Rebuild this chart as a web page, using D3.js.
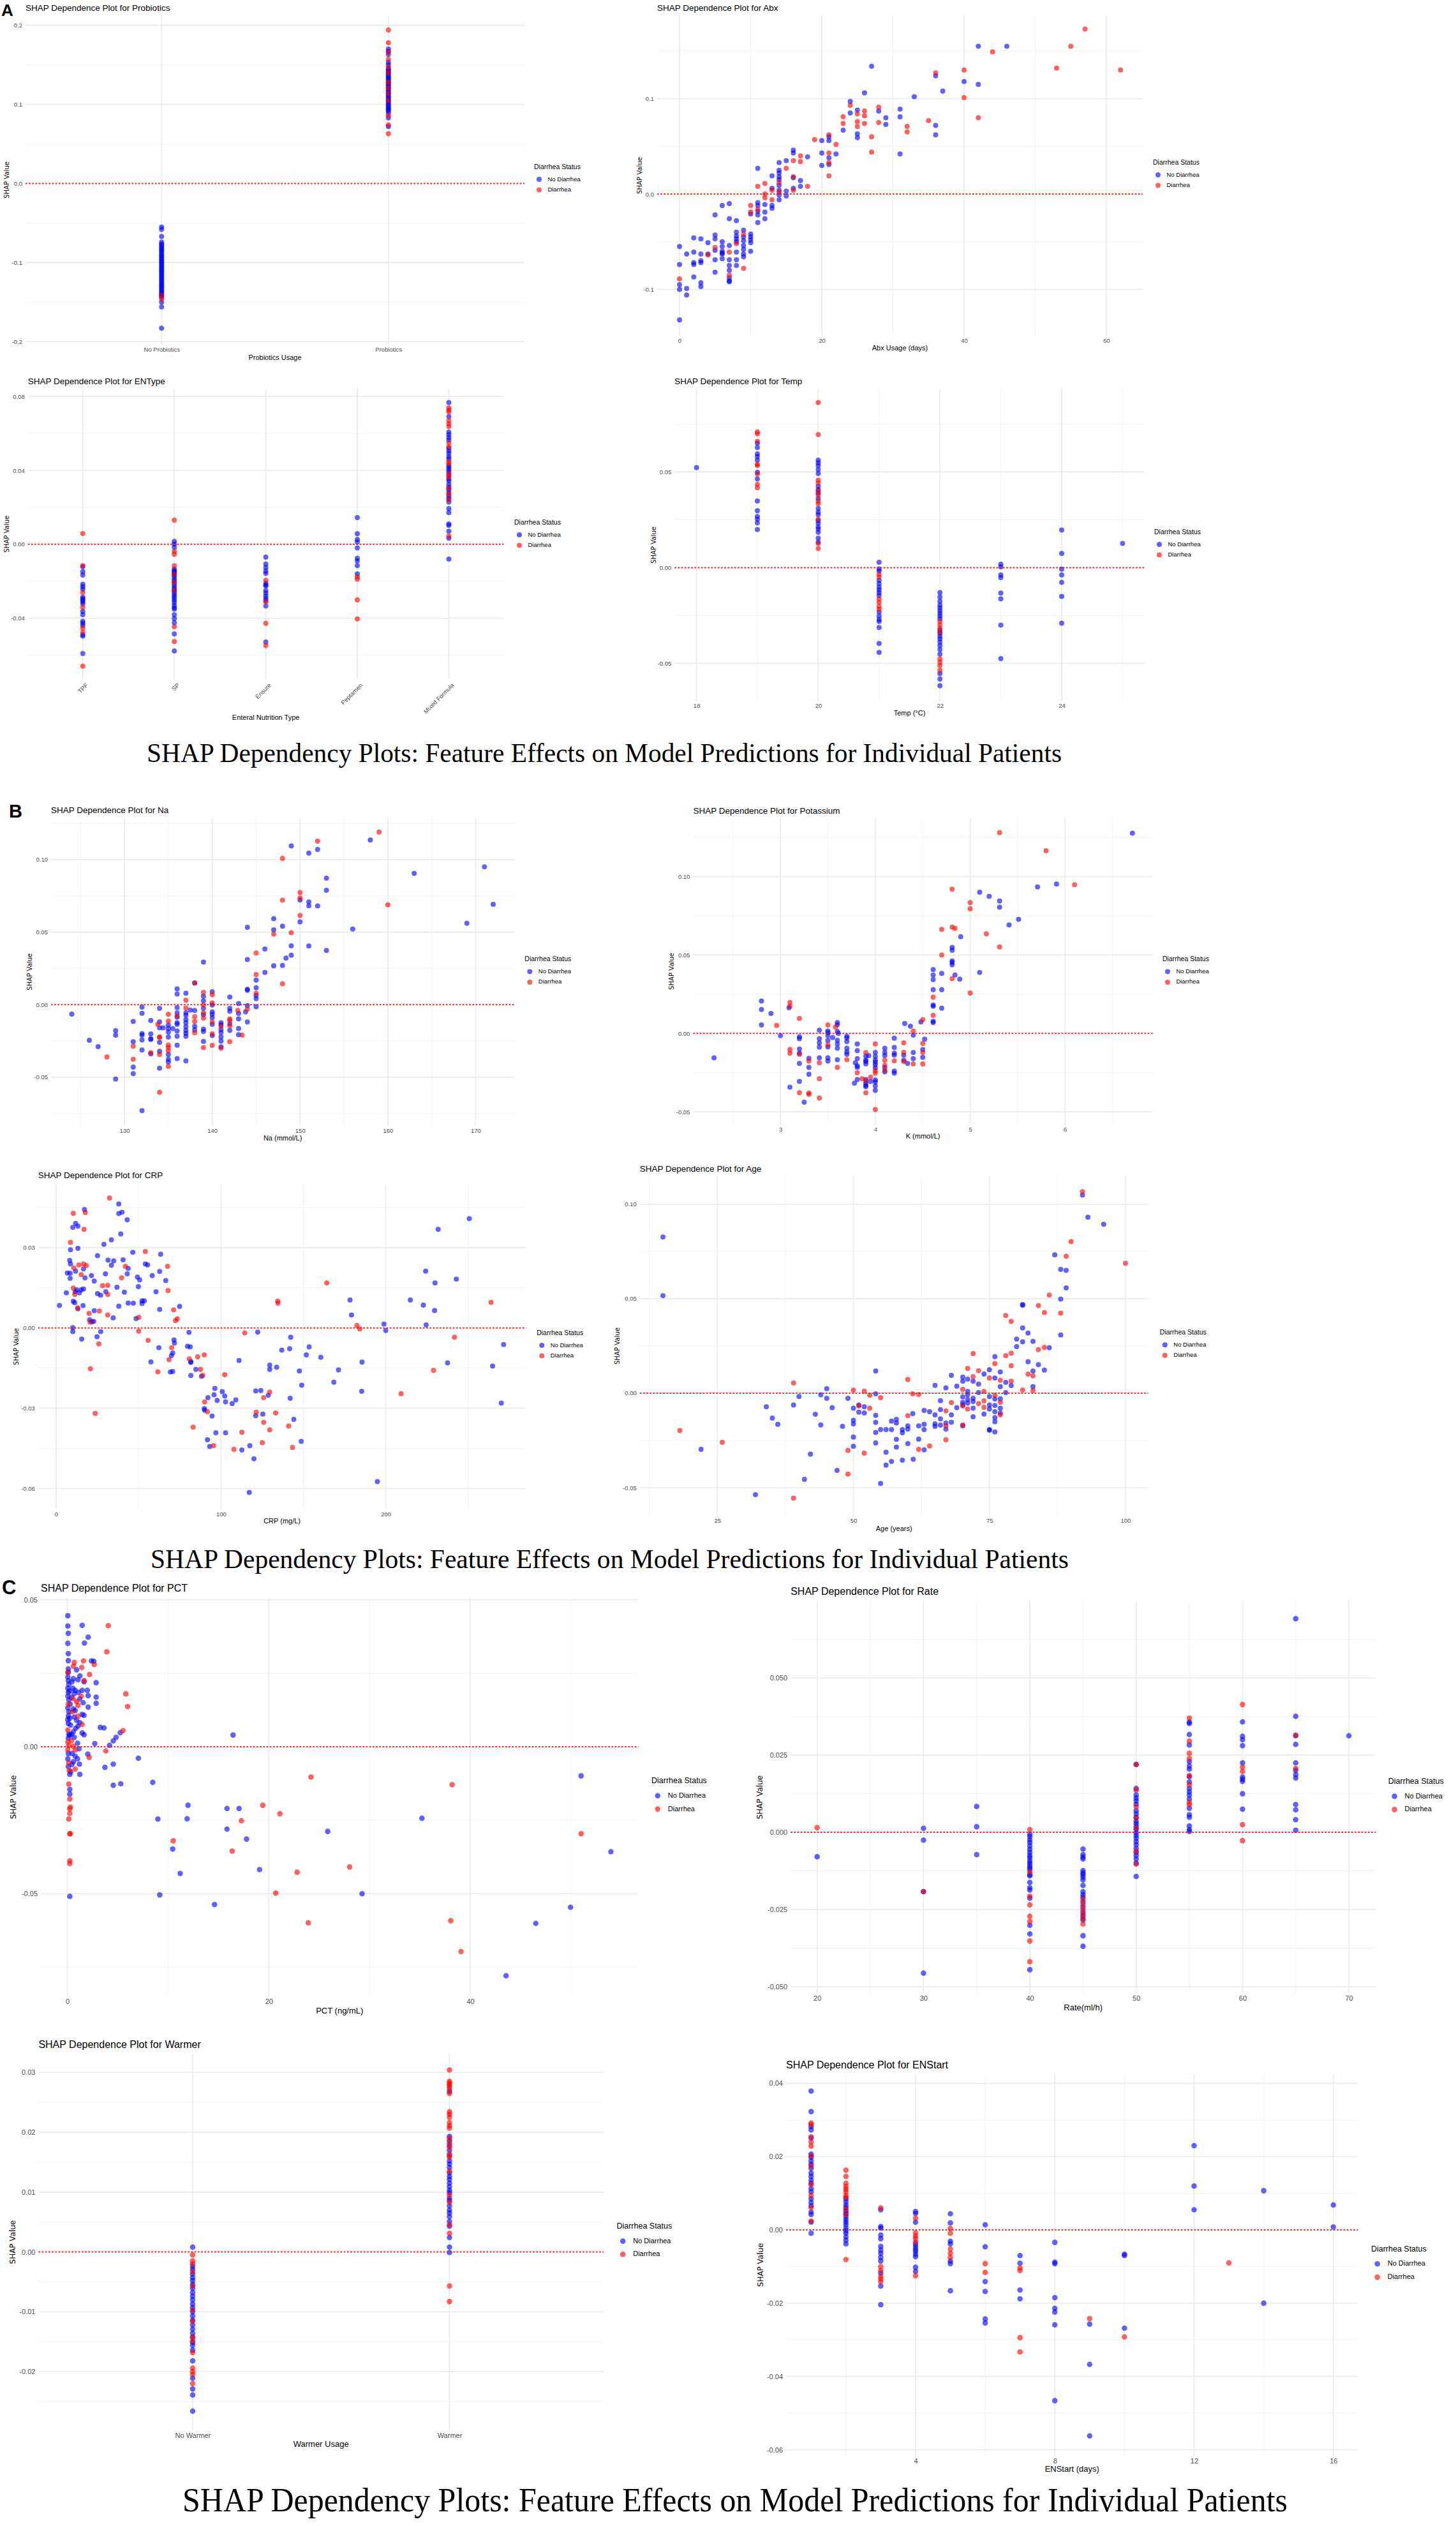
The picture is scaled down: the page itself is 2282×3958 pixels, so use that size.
<!DOCTYPE html>
<html>
<head>
<meta charset="utf-8">
<script src="https://cdn.jsdelivr.net/npm/d3@7"></script>
<style>
  body { margin: 0; background: #fff; }
</style>
</head>
<body>
<script>
// ---------- data: [x, shap] pairs, split by diarrhea status ----------

const probioticsCats = ['No Probiotics', 'Probiotics'];
const probioticsNo = [
  ['No Probiotics',-0.055],['No Probiotics',-0.058],['No Probiotics',-0.067],['No Probiotics',-0.074],['No Probiotics',-0.0765],
  ['No Probiotics',-0.078],['No Probiotics',-0.0805],['No Probiotics',-0.0822],['No Probiotics',-0.0841],['No Probiotics',-0.0858],
  ['No Probiotics',-0.088],['No Probiotics',-0.0897],['No Probiotics',-0.0915],['No Probiotics',-0.093],['No Probiotics',-0.0952],
  ['No Probiotics',-0.0969],['No Probiotics',-0.0985],['No Probiotics',-0.1003],['No Probiotics',-0.1021],['No Probiotics',-0.104],
  ['No Probiotics',-0.1056],['No Probiotics',-0.1074],['No Probiotics',-0.1093],['No Probiotics',-0.111],['No Probiotics',-0.1128],
  ['No Probiotics',-0.1145],['No Probiotics',-0.1166],['No Probiotics',-0.1182],['No Probiotics',-0.1201],['No Probiotics',-0.1219],
  ['No Probiotics',-0.1235],['No Probiotics',-0.1257],['No Probiotics',-0.1274],['No Probiotics',-0.129],['No Probiotics',-0.1311],
  ['No Probiotics',-0.1327],['No Probiotics',-0.1348],['No Probiotics',-0.1366],['No Probiotics',-0.1385],['No Probiotics',-0.1402],
  ['No Probiotics',-0.142],['No Probiotics',-0.1438],['No Probiotics',-0.150],['No Probiotics',-0.156],['No Probiotics',-0.183],
  ['Probiotics',0.170],['Probiotics',0.167],['Probiotics',0.163],['Probiotics',0.153],['Probiotics',0.150],['Probiotics',0.1452],
  ['Probiotics',0.1437],['Probiotics',0.142],['Probiotics',0.1401],['Probiotics',0.1386],['Probiotics',0.1365],['Probiotics',0.1348],
  ['Probiotics',0.133],['Probiotics',0.1312],['Probiotics',0.1296],['Probiotics',0.1274],['Probiotics',0.1258],['Probiotics',0.124],
  ['Probiotics',0.1222],['Probiotics',0.1205],['Probiotics',0.1187],['Probiotics',0.1166],['Probiotics',0.115],['Probiotics',0.1131],
  ['Probiotics',0.1113],['Probiotics',0.1095],['Probiotics',0.1078],['Probiotics',0.106],['Probiotics',0.1042],['Probiotics',0.1024],
  ['Probiotics',0.1006],['Probiotics',0.0987],['Probiotics',0.0968],['Probiotics',0.095],['Probiotics',0.0933],['Probiotics',0.0918],
  ['Probiotics',0.089],['Probiotics',0.083],['Probiotics',0.072]
];
const probioticsYes = [
  ['No Probiotics',-0.146],['No Probiotics',-0.1415],
  ['Probiotics',0.194],['Probiotics',0.178],['Probiotics',0.166],['Probiotics',0.157],['Probiotics',0.147],['Probiotics',0.140],
  ['Probiotics',0.128],['Probiotics',0.121],['Probiotics',0.114],['Probiotics',0.105],['Probiotics',0.086],['Probiotics',0.074],
  ['Probiotics',0.063]
];

const abxNo = [
  [42,0.155],[46,0.155],[27,0.134],[36,0.124],[40,0.118],[42,0.115],[37,0.108],[26,0.106],[33,0.102],[24,0.097],[31,0.089],
  [25,0.088],[28,0.087],[24,0.085],[31,0.081],[29,0.080],[36,0.072],[29,0.073],[23,0.067],[25,0.063],[36,0.062],[25,0.059],
  [21,0.060],[20,0.056],[21,0.056],[16,0.046],[16,0.043],[20,0.043],[22,0.042],[31,0.042],[18,0.039],[15,0.035],[14,0.033],
  [21,0.038],[21,0.031],[20,0.030],[11,0.027],[14,0.025],[14,0.022],[13,0.019],[14,0.018],[16,0.017],[14,0.015],[17,0.014],
  [14,0.009],[17,0.008],[16,0.006],[13,0.006],[14,0.004],[15,0.003],[15,-0.002],[14,-0.001],[14,-0.006],[11,-0.009],[7,-0.010],
  [11,-0.012],[12,-0.011],[13,-0.012],[13,-0.015],[11,-0.018],[12,-0.019],[10,-0.021],[11,-0.022],[12,-0.026],[7,-0.026],
  [8,-0.028],[11,-0.030],[9,-0.038],[8,-0.040],[10,-0.042],[8,-0.044],[9,-0.045],[10,-0.045],[8,-0.047],[10,-0.048],[9,-0.049],
  [8,-0.050],[10,-0.051],[7,-0.054],[9,-0.054],[9,-0.058],[8,-0.061],[10,-0.060],[9,-0.063],[9,-0.066],[8,-0.069],[7,-0.069],
  [7,-0.075],[8,-0.075],[7,-0.080],[7,-0.088],[7,-0.091],[7,-0.092],
  [0,-0.055],[0,-0.074],[0,-0.095],[0,-0.100],[0,-0.132],[1,-0.063],[1,-0.099],[1,-0.106],[2,-0.046],[2,-0.061],[2,-0.072],
  [2,-0.074],[2,-0.087],[3,-0.047],[3,-0.063],[3,-0.070],[3,-0.072],[3,-0.093],[3,-0.097],[4,-0.051],[4,-0.063],[5,-0.043],
  [5,-0.047],[5,-0.059],[5,-0.069],[5,-0.082],[5,-0.022],[6,-0.012],[6,-0.050],[6,-0.055],[6,-0.060],[6,-0.063],[6,-0.068],[6,-0.062]
];
const abxYes = [
  [57,0.173],[55,0.155],[44,0.149],[53,0.132],[62,0.130],[40,0.130],[36,0.127],[40,0.101],[24,0.093],[28,0.091],[26,0.087],
  [25,0.084],[26,0.082],[23,0.081],[42,0.080],[35,0.077],[25,0.076],[28,0.075],[26,0.074],[23,0.074],[25,0.071],[32,0.071],
  [32,0.065],[27,0.060],[21,0.062],[19,0.057],[22,0.052],[21,0.043],[27,0.044],[17,0.040],[16,0.035],[17,0.034],[21,0.033],
  [15,0.027],[21,0.019],[16,0.018],[14,0.012],[12,0.011],[11,0.008],[18,0.008],[13,0.004],[16,0.004],[14,0.002],[12,0.000],
  [12,-0.004],[13,-0.006],[10,-0.012],[11,-0.016],[10,-0.019],[9,-0.042],[8,-0.052],[7,-0.061],[9,-0.078],[7,-0.085],
  [0,-0.089],[4,-0.064],[5,-0.056]
];

const entypeCats = ['TPF', 'SP', 'Ensure', 'Peptamen', 'Mixed Formula'];
const entypeNo = [
  ['TPF',-0.0121],['TPF',-0.0148],['TPF',-0.0166],['TPF',-0.0216],['TPF',-0.0229],['TPF',-0.0243],['TPF',-0.0286],['TPF',-0.0294],
  ['TPF',-0.0302],['TPF',-0.0311],['TPF',-0.0322],['TPF',-0.0363],['TPF',-0.0381],['TPF',-0.0417],['TPF',-0.0427],['TPF',-0.0439],
  ['TPF',-0.0489],['TPF',-0.0497],['TPF',-0.0591],
  ['SP',0.0016],['SP',0.0001],['SP',-0.0017],['SP',-0.0134],['SP',-0.0142],['SP',-0.015],['SP',-0.0158],['SP',-0.0166],['SP',-0.0174],
  ['SP',-0.0189],['SP',-0.0198],['SP',-0.0212],['SP',-0.0225],['SP',-0.0236],['SP',-0.0247],['SP',-0.0256],['SP',-0.0268],['SP',-0.0279],
  ['SP',-0.029],['SP',-0.0302],['SP',-0.0315],['SP',-0.033],['SP',-0.0343],['SP',-0.0351],['SP',-0.0381],['SP',-0.0402],['SP',-0.0424],
  ['SP',-0.0485],['SP',-0.0577],
  ['Ensure',-0.007],['Ensure',-0.0107],['Ensure',-0.0126],['Ensure',-0.0145],['Ensure',-0.0158],['Ensure',-0.0211],['Ensure',-0.0221],
  ['Ensure',-0.0225],['Ensure',-0.025],['Ensure',-0.0264],['Ensure',-0.0279],['Ensure',-0.0293],['Ensure',-0.0305],['Ensure',-0.0334],
  ['Ensure',-0.0529],
  ['Peptamen',0.0144],['Peptamen',0.0057],['Peptamen',0.0026],['Peptamen',0.0012],['Peptamen',-0.002],['Peptamen',-0.0076],
  ['Peptamen',-0.009],['Peptamen',-0.0115],['Peptamen',-0.016],
  ['Mixed Formula',0.0767],['Mixed Formula',0.0691],['Mixed Formula',0.0607],['Mixed Formula',0.0593],['Mixed Formula',0.0578],
  ['Mixed Formula',0.0564],['Mixed Formula',0.052],['Mixed Formula',0.0505],['Mixed Formula',0.0491],['Mixed Formula',0.0473],
  ['Mixed Formula',0.0462],['Mixed Formula',0.0426],['Mixed Formula',0.0415],['Mixed Formula',0.0404],['Mixed Formula',0.0392],
  ['Mixed Formula',0.0372],['Mixed Formula',0.0353],['Mixed Formula',0.0343],['Mixed Formula',0.0324],['Mixed Formula',0.0309],
  ['Mixed Formula',0.0295],['Mixed Formula',0.028],['Mixed Formula',0.0261],['Mixed Formula',0.0247],['Mixed Formula',0.0229],
  ['Mixed Formula',0.0193],['Mixed Formula',0.0171],['Mixed Formula',0.011],['Mixed Formula',0.0102],['Mixed Formula',0.007],
  ['Mixed Formula',0.0033],['Mixed Formula',-0.008]
];
const entypeYes = [
  ['TPF',0.0058],['TPF',-0.0115],['TPF',-0.0261],['TPF',-0.0341],['TPF',-0.0453],['TPF',-0.0475],['TPF',-0.0659],
  ['SP',0.0131],['SP',-0.0039],['SP',-0.0054],['SP',-0.0116],['SP',-0.0163],['SP',-0.0206],['SP',-0.025],['SP',-0.0446],['SP',-0.0526],
  ['Ensure',-0.0195],['Ensure',-0.0311],['Ensure',-0.0428],['Ensure',-0.0548],
  ['Peptamen',-0.0177],['Peptamen',-0.0189],['Peptamen',-0.0301],['Peptamen',-0.0404],
  ['Mixed Formula',0.0738],['Mixed Formula',0.0726],['Mixed Formula',0.0716],['Mixed Formula',0.0668],['Mixed Formula',0.0651],
  ['Mixed Formula',0.0636],['Mixed Formula',0.0549],['Mixed Formula',0.0527],['Mixed Formula',0.0447],['Mixed Formula',0.0436],
  ['Mixed Formula',0.0382],['Mixed Formula',0.0363],['Mixed Formula',0.0302],['Mixed Formula',0.027],['Mixed Formula',0.0241],
  ['Mixed Formula',0.0044]
];

const tempNo = [
  [18,0.0522],[19,0.065],[19,0.0627],[19,0.0594],[19,0.058],[19,0.0561],[19,0.0498],[19,0.0463],[19,0.0348],[19,0.0297],
  [19,0.0267],[19,0.0253],[19,0.0234],[19,0.0199],[20,0.0561],[20,0.0547],[20,0.0533],[20,0.0512],[20,0.0491],[20,0.0425],
  [20,0.0407],[20,0.0389],[20,0.0361],[20,0.0309],[20,0.029],[20,0.0276],[20,0.0246],[20,0.0232],[20,0.0213],[20,0.0201],
  [20,0.0185],[20,0.0154],[20,0.0133],[21,0.0028],[21,-0.0007],[21,-0.0018],[21,-0.0066],[21,-0.0084],[21,-0.0102],[21,-0.0116],
  [21,-0.013],[21,-0.0145],[21,-0.0232],[21,-0.0253],[21,-0.0271],[21,-0.0281],[21,-0.0313],[21,-0.0396],[21,-0.0443],
  [22,-0.013],[22,-0.0154],[22,-0.0176],[22,-0.0196],[22,-0.021],[22,-0.0225],[22,-0.0239],[22,-0.0253],[22,-0.0267],
  [22,-0.0326],[22,-0.0343],[22,-0.0358],[22,-0.0372],[22,-0.0389],[22,-0.0407],[22,-0.0428],[22,-0.0452],[22,-0.0554],
  [22,-0.0582],[22,-0.0617],[23,0.0018],[23,0.0004],[23,-0.0038],[23,-0.0052],[23,-0.0133],[23,-0.0163],[23,-0.03],
  [23,-0.0475],[24,0.0196],[24,0.0074],[24,-0.0008],[24,-0.0038],[24,-0.0077],[24,-0.015],[24,-0.029],[25,0.0126]
];
const tempYes = [
  [19,0.0709],[19,0.0699],[19,0.066],[19,0.054],[19,0.0533],[19,0.0488],[19,0.0435],[19,0.0417],[20,0.0862],[20,0.0695],
  [20,0.0456],[20,0.0442],[20,0.04],[20,0.0379],[20,0.0347],[20,0.0333],[20,0.0253],[20,0.0126],[20,0.01],[21,-0.0035],
  [21,-0.0049],[21,-0.0164],[21,-0.0182],[21,-0.0203],[21,-0.0217],[22,-0.0281],[22,-0.0299],[22,-0.0316],[22,-0.0337],
  [22,-0.0477],[22,-0.0495],[22,-0.0512],[22,-0.0537]
];

const naNo = [
  [158,0.1135],[149,0.1094],[152,0.107],[151,0.1044],[171,0.095],[163,0.0905],[153,0.0872],[153,0.0788],[150,0.0721],[151,0.0708],
  [172,0.0692],[151,0.0682],[152,0.068],[147,0.0592],[150,0.0571],[169,0.0561],[148,0.0541],[144,0.0533],[156,0.0521],[147,0.0515],
  [149,0.0405],[151,0.0404],[153,0.0374],[146,0.0384],[149,0.0341],[148.4,0.0321],[144,0.0311],[139,0.0293],[147,0.0268],[148,0.027],
  [146,0.0222],[145,0.0169],[138,0.0149],[145,0.0116],[136,0.0109],[144,0.0106],[144,0.0099],[136,0.0073],[137,0.0079],[140,0.0089],
  [145,0.0063],[142,0.0053],[139,0.0058],[145,0.0041],[139,0.0026],[143,0.0007],[140,-0.0003],[144,-0.0007],[145,-0.0015],
  [132,-0.0017],[136,-0.002],[134,-0.0026],[139,-0.0026],[142,-0.0026],[138,-0.004],[137.5,-0.0038],[142,-0.0045],[140,-0.005],
  [136,-0.0056],[137,-0.0056],[143.8,-0.005],[132,-0.006],[143,-0.0061],[124,-0.0065],[139,-0.007],[140,-0.0066],[137,-0.0073],
  [136,-0.0086],[143,-0.0098],[140,-0.0089],[137,-0.0103],[133,-0.0109],[131,-0.0116],[134,-0.0119],[144,-0.0119],[136,-0.0124],
  [137,-0.0124],[142,-0.0131],[136,-0.0136],[141,-0.0124],[140,-0.0136],[141,-0.0139],[135,-0.0141],[138,-0.0149],[137,-0.0152],
  [134,-0.016],[134.4,-0.016],[135,-0.0165],[135.5,-0.0165],[143,-0.0164],[137,-0.0177],[138,-0.0174],[139,-0.0169],[141,-0.0172],
  [142,-0.0177],[136,-0.0182],[135,-0.0189],[137,-0.0197],[139,-0.0185],[141,-0.0192],[132,-0.0199],[133,-0.0202],[143,-0.0207],
  [132,-0.021],[129,-0.021],[140,-0.0213],[136,-0.0218],[137,-0.0218],[135,-0.0223],[141,-0.0222],[129,-0.0179],[133,-0.0235],
  [133,-0.024],[132,-0.0243],[126,-0.0245],[131,-0.0255],[134,-0.026],[139,-0.0253],[141,-0.0251],[136,-0.028],[127,-0.029],
  [141,-0.0291],[132,-0.0313],[134,-0.0321],[133,-0.0339],[135,-0.0343],[136,-0.0372],[135,-0.0376],[137,-0.0387],[135,-0.0395],
  [131,-0.043],[134,-0.0438],[131,-0.0475],[129,-0.0513],[132,-0.073]
];
const naYes = [
  [159,0.119],[152,0.1127],[148,0.1008],[150,0.0773],[150,0.0735],[148,0.072],[160,0.0688],[150,0.0614],[149,0.0496],[147,0.0486],
  [145,0.0356],[145,0.0208],[148,0.0144],[138,0.0149],[139,0.0084],[145,0.0079],[140,0.0068],[137,0.003],[140,0.0012],[139,-0.0003],
  [137,-0.0025],[144,-0.0031],[142.9,-0.004],[139,-0.0056],[135,-0.0066],[136,-0.0078],[138,-0.0083],[139,-0.0094],[142,-0.0098],
  [142,-0.0108],[135,-0.0113],[138,-0.0116],[140,-0.0119],[133.8,-0.0136],[141,-0.0149],[142,-0.0147],[138,-0.0194],[140,-0.0202],
  [143.4,-0.021],[134,-0.0222],[134,-0.0227],[142,-0.0255],[135,-0.0278],[140,-0.0281],[131,-0.0286],[135,-0.0296],[139,-0.0296],
  [141,-0.0301],[135,-0.0318],[133,-0.0331],[134,-0.0343],[128,-0.0361],[131,-0.0376],[135,-0.0425],[134,-0.0604]
];

const kNo = [
  [6.71,0.1277],[5.71,0.0934],[5.91,0.0952],[5.10,0.090],[5.20,0.0874],[5.31,0.0844],[5.31,0.0805],[5.51,0.0727],[5.41,0.0692],
  [4.90,0.0617],[4.81,0.0548],[4.81,0.053],[4.81,0.0462],[4.81,0.0453],[4.81,0.0438],[4.61,0.0407],[5.10,0.0389],[4.70,0.0383],
  [4.61,0.0372],[4.84,0.0372],[4.61,0.0343],[4.89,0.0346],[4.61,0.0279],[4.70,0.0279],[4.61,0.0181],[4.61,0.0173],[4.70,0.0161],
  [2.80,0.0207],[2.80,0.0153],[2.90,0.0127],[3.09,0.0164],[4.61,0.0077],[4.61,0.0069],[4.48,0.0073],[4.31,0.0063],[4.37,0.0046],
  [2.80,0.0054],[3.60,0.0069],[3.60,0.0055],[3.41,0.002],[3.50,0.0015],[3.60,0.0012],[3.50,0.0005],[3.00,-0.0014],[3.61,0.0],
  [4.40,-0.0011],[3.20,-0.0021],[3.20,-0.0034],[3.55,-0.0026],[3.50,-0.0015],[3.70,-0.0018],[3.70,-0.0028],[4.20,-0.0031],
  [4.52,-0.0037],[3.41,-0.0034],[3.60,-0.0044],[3.50,-0.0046],[3.41,-0.006],[3.70,-0.0052],[3.81,-0.0067],[3.60,-0.0067],
  [3.41,-0.0087],[3.50,-0.0086],[3.60,-0.0095],[4.10,-0.0095],[4.20,-0.009],[4.50,-0.0103],[3.20,-0.010],[3.70,-0.0095],
  [3.81,-0.011],[4.10,-0.0121],[4.00,-0.0121],[4.20,-0.0126],[4.40,-0.0122],[3.20,-0.0126],[3.70,-0.0118],[3.70,-0.0133],
  [4.30,-0.0138],[4.10,-0.0141],[4.20,-0.0138],[3.90,-0.0145],[3.93,-0.0141],[4.00,-0.0148],[4.50,-0.0153],[3.41,-0.0156],
  [3.30,-0.0159],[4.40,-0.0161],[3.81,-0.0161],[3.50,-0.0156],[3.60,-0.0168],[3.90,-0.0171],[4.00,-0.0171],[4.30,-0.0171],
  [3.50,-0.0176],[3.90,-0.0179],[4.00,-0.0184],[3.79,-0.0187],[3.20,-0.0191],[4.34,-0.0191],[3.90,-0.0194],[4.00,-0.0199],
  [3.81,-0.0207],[4.10,-0.0217],[3.30,-0.0217],[4.00,-0.022],[3.81,-0.0217],[4.10,-0.0245],[4.20,-0.0253],[4.20,-0.024],
  [3.30,-0.026],[3.81,-0.0294],[3.90,-0.0294],[4.00,-0.0297],[3.95,-0.0306],[3.20,-0.0306],[4.00,-0.0309],[3.78,-0.0317],
  [3.90,-0.0317],[3.90,-0.0332],[3.90,-0.034],[4.00,-0.0335],[3.10,-0.0343],[4.00,-0.0363],[3.25,-0.0439],[2.30,-0.0156]
];
const kYes = [
  [5.31,0.128],[5.80,0.1165],[4.81,0.092],[6.10,0.0948],[5.00,0.0834],[5.00,0.0795],[4.81,0.0678],[4.84,0.0669],[4.70,0.0663],
  [5.17,0.0635],[5.31,0.0551],[4.70,0.05],[4.81,0.0349],[5.00,0.0257],[4.61,0.0231],[3.10,0.0197],[3.10,0.0173],[3.20,0.0096],
  [4.61,0.0115],[4.50,0.0087],[2.96,0.0051],[3.50,0.0054],[3.58,0.004],[4.40,0.0015],[4.30,-0.006],[4.50,-0.0064],[3.50,-0.0073],
  [4.00,-0.0067],[3.10,-0.0103],[4.30,-0.0121],[4.50,-0.0121],[3.10,-0.0126],[3.20,-0.0133],[3.90,-0.0122],[3.70,-0.0168],
  [4.10,-0.0171],[4.20,-0.0175],[3.30,-0.0176],[4.30,-0.0179],[3.41,-0.0187],[4.40,-0.0194],[4.50,-0.0194],[4.10,-0.0202],
  [3.60,-0.0217],[4.10,-0.0236],[4.00,-0.0237],[4.00,-0.0253],[3.81,-0.0251],[3.95,-0.0279],[3.41,-0.0289],[3.86,-0.0289],
  [3.90,-0.0302],[3.20,-0.0378],[3.30,-0.0381],[3.30,-0.0389],[3.90,-0.0378],[3.41,-0.0412],[4.00,-0.0485]
];

const crpNo = [
  [38,0.0463],[17.2,0.0442],[40,0.0432],[38,0.0427],[43.1,0.0404],[250.7,0.0408],[11.8,0.039],[13.2,0.038],[10.1,0.0375],
  [231.8,0.0368],[39.2,0.0351],[33.5,0.0329],[29,0.0312],[13.2,0.0297],[8.7,0.0292],[46.5,0.0282],[63.4,0.0275],[25.1,0.027],
  [8.2,0.0252],[31.5,0.0253],[34.9,0.025],[40.6,0.0254],[8.7,0.0239],[54.1,0.0239],[55.5,0.0235],[33.5,0.0234],[43.7,0.0222],
  [16.6,0.022],[11.8,0.0212],[224.2,0.0212],[6.8,0.0205],[8.5,0.0204],[29.9,0.0202],[43.1,0.0202],[62.8,0.0211],[21.4,0.0195],
  [17.5,0.0187],[49.3,0.019],[8.5,0.0185],[58.3,0.0195],[50.7,0.0179],[23.1,0.0175],[66.5,0.0177],[242.8,0.0182],[229.9,0.0168],
  [36.9,0.0152],[49.9,0.0154],[16.6,0.0145],[12.4,0.0142],[15.2,0.0142],[11.5,0.0135],[6.2,0.0131],[14.1,0.0131],[30.1,0.0135],
  [41.4,0.0133],[60.6,0.0135],[25.1,0.0128],[27,0.0122],[178.3,0.0104],[214.9,0.0104],[52.1,0.0101],[53.5,0.0101],[10.4,0.0099],
  [43.7,0.0093],[46.8,0.0092],[11.3,0.0094],[52.1,0.0091],[2,0.0084],[16.3,0.0083],[38,0.0081],[222.8,0.0085],[74.9,0.008],
  [13.2,0.0071],[62.8,0.0069],[23.1,0.0064],[229.6,0.0065],[179.2,0.0048],[34.6,0.0037],[48.5,0.0035],[20.3,0.003],[22.8,0.0024],
  [21.7,0.0023],[198.9,0.0014],[224.5,0.0011],[10.1,0.0001],[10.1,-0.0014],[200,-0.001],[80.6,-0.0017],[27,-0.0014],[122.3,-0.0016],
  [142.3,-0.0035],[24.8,-0.0033],[15.5,-0.0042],[71.5,-0.0045],[71.8,-0.0057],[271.5,-0.0062],[153.5,-0.0071],[79.7,-0.0069],
  [81.4,-0.0071],[62.3,-0.0074],[141.7,-0.0078],[136.9,-0.0083],[70.7,-0.0094],[151.8,-0.0101],[69.9,-0.0104],[160.6,-0.011],
  [111,-0.0122],[81.7,-0.0126],[81.7,-0.0129],[57.5,-0.0127],[185.6,-0.0128],[237.5,-0.0131],[129.6,-0.0139],[133.8,-0.0147],
  [264.8,-0.0143],[129.6,-0.0155],[84.8,-0.0155],[171.3,-0.0157],[147.6,-0.0161],[69.3,-0.0165],[70.7,-0.0163],[81.7,-0.0178],
  [88.2,-0.0181],[168.5,-0.0203],[149,-0.0214],[96.3,-0.0226],[100.8,-0.0238],[121.1,-0.0236],[124.2,-0.0234],[185.4,-0.0237],
  [95.8,-0.025],[128.7,-0.0252],[102.3,-0.0255],[92.1,-0.0261],[142,-0.0263],[109,-0.0269],[97.7,-0.0271],[102.8,-0.0276],
  [106.8,-0.0283],[270.1,-0.0281],[89.9,-0.0302],[90.1,-0.0308],[125.4,-0.0322],[121.1,-0.0328],[94.6,-0.0329],[144.2,-0.0342],
  [96.9,-0.0392],[102.8,-0.0392],[91.8,-0.0418],[148.7,-0.0424],[117.5,-0.044],[93.2,-0.0443],[112.7,-0.0456],[120,-0.0489],
  [194.9,-0.0574],[117.2,-0.0615]
];
const crpYes = [
  [32.4,0.0485],[10.4,0.0428],[17.7,0.0431],[16.9,0.0368],[8.7,0.0319],[54.1,0.0285],[13.8,0.0235],[16.6,0.0239],[18.3,0.0233],
  [42,0.023],[67.6,0.023],[10.7,0.0224],[15.2,0.0199],[39.7,0.0187],[164.2,0.0168],[28.2,0.0158],[31.3,0.0159],[67.9,0.0139],
  [10.4,0.0149],[11.3,0.0125],[31.3,0.0125],[134.4,0.01],[263.9,0.0095],[134.6,0.0092],[13,0.0075],[71.3,0.0067],[26.2,0.0063],
  [20,0.0054],[31.3,0.0048],[50.1,0.0039],[73.5,0.0034],[72.4,0.0027],[20.6,0.0021],[182.5,0.0009],[184.2,-0.0004],[50.1,-0.0012],
  [114.4,-0.0019],[241.7,-0.0035],[55.8,-0.0047],[25.9,-0.006],[70.1,-0.0074],[89.9,-0.0101],[85.9,-0.0108],[80.8,-0.0116],
  [68.5,-0.0119],[87.6,-0.0155],[20.8,-0.0153],[229,-0.0159],[61.7,-0.0164],[89,-0.0177],[102.3,-0.0175],[129.6,-0.024],
  [209.3,-0.0246],[125.9,-0.0261],[90.1,-0.0277],[91.8,-0.0313],[121.4,-0.0315],[23.7,-0.032],[133.2,-0.0318],[125.9,-0.0353],
  [141.1,-0.0367],[83.1,-0.0371],[129.6,-0.0381],[112.7,-0.039],[125.1,-0.0429],[95.5,-0.044],[143.4,-0.0447],[107.9,-0.0454]
];

const ageNo = [
  [15,0.0826],[15,0.0516],[22,-0.0297],[92.1,0.1048],[93.1,0.0931],[96,0.0894],[87,0.0732],[88.1,0.0655],[89.1,0.065],[89.1,0.0557],
  [88.1,0.0498],[81.1,0.0469],[81.1,0.0465],[81.1,0.0345],[82.1,0.0318],[88.1,0.0308],[80,0.0286],[81.1,0.0272],[83,0.0274],
  [80,0.0246],[86,0.024],[76,0.0193],[82.1,0.0166],[84,0.0151],[85.1,0.0122],[75,0.0124],[77,0.0112],[83,0.0117],[54.1,0.0117],
  [74,0.0101],[68,0.0094],[76,0.008],[70.1,0.0085],[71,0.0074],[72,0.0063],[70.1,0.0063],[78,0.0057],[73,0.0048],[65,0.0041],
  [79,0.004],[77,0.0034],[69,0.0037],[83,0.0034],[67,0.0028],[45.1,0.0023],[71,0.0009],[73,0.0003],[78,0.0003],[54.1,-0.0004],
  [75,-0.0018],[44,-0.0009],[71,-0.0009],[40,-0.0018],[70.1,-0.002],[45.1,-0.0027],[49,-0.0027],[72,-0.0027],[77,-0.003],
  [71,-0.0034],[76,-0.0031],[66,-0.004],[72,-0.0044],[70.1,-0.0048],[71,-0.0053],[75,-0.0063],[70.1,-0.0063],[76,-0.0065],
  [39,-0.0063],[69,-0.0077],[46.1,-0.0077],[51,-0.0063],[52,-0.0072],[50,-0.008],[72,-0.008],[77,-0.008],[63,-0.0091],[34,-0.0072],
  [75,-0.0084],[66,-0.0087],[64,-0.0098],[51,-0.0101],[76,-0.0098],[52,-0.0105],[60.9,-0.0108],[77,-0.0105],[74,-0.0111],
  [43,-0.0112],[65,-0.0115],[54.1,-0.0118],[68,-0.0115],[72,-0.0125],[35.1,-0.0132],[76,-0.0129],[66,-0.0136],[57.9,-0.0139],
  [50,-0.0144],[57,-0.0148],[57.9,-0.0158],[54.1,-0.0155],[67,-0.0158],[76,-0.0151],[65,-0.0162],[68,-0.0154],[50,-0.0162],
  [36.1,-0.0165],[44,-0.0168],[63,-0.0165],[66,-0.0169],[48,-0.0176],[62,-0.0173],[60,-0.0173],[65,-0.0176],[70.1,-0.0173],
  [67,-0.019],[60,-0.019],[63,-0.0193],[55,-0.0193],[56,-0.0193],[57,-0.0193],[59,-0.0193],[75,-0.0193],[75,-0.0196],[76,-0.0205],
  [54.1,-0.0208],[59,-0.021],[50,-0.0232],[57.9,-0.0244],[62,-0.0243],[60,-0.0267],[54.1,-0.0264],[50,-0.0281],[57.9,-0.0286],
  [63,-0.03],[56,-0.0313],[42.1,-0.0323],[61,-0.035],[59,-0.0355],[57,-0.0362],[56,-0.0381],[47,-0.0409],[41,-0.0456],[55,-0.0478],
  [32,-0.0537]
];
const ageYes = [
  [18.1,-0.0198],[25.9,-0.026],[92.1,0.1066],[90,0.0802],[89.1,0.0724],[100,0.0687],[86,0.0519],[84,0.0463],[85.1,0.0426],
  [88.1,0.0424],[78,0.0411],[79,0.038],[85.1,0.0242],[84,0.023],[72,0.0209],[79,0.0212],[78,0.0198],[76,0.0156],[79,0.0145],
  [71,0.0131],[73,0.0119],[82.1,0.0101],[83,0.0092],[75,0.008],[72,0.0087],[79,0.0063],[77,0.0068],[60,0.0072],[39,0.0054],
  [70.1,0.002],[81.1,0.0017],[83,0.0014],[50,0.0016],[52,0.0011],[74,0.0009],[60.9,-0.0004],[62,-0.0007],[76,-0.0011],[53,-0.0011],
  [55,-0.0024],[74,-0.0041],[77,-0.0048],[68,-0.005],[73,-0.0055],[70.1,-0.0068],[74,-0.0075],[51,-0.0068],[53,-0.008],[71,-0.0084],
  [67,-0.0094],[77,-0.0115],[60,-0.0119],[70.1,-0.0168],[67,-0.0173],[67,-0.0247],[64,-0.028],[62,-0.0297],[49,-0.0303],[52,-0.0318],
  [49,-0.0428],[39,-0.0556]
];

const pctNo = [
  [0.05,0.0446],[0.05,0.0411],[0.1,0.0386],[0.05,0.0352],[0.1,0.0317],[0.1,0.0293],[0.1,0.0265],[0.05,0.0238],[0.1,0.0225],
  [0.15,0.0212],[0.05,0.0199],[0.1,0.0185],[0.05,0.0172],[0.15,0.0159],[0.05,0.0132],[0.15,0.0119],[0.1,0.0105],[0.05,0.0092],
  [0.1,0.0079],[0.15,0.0043],[0.1,0.003],[0.1,-0.0023],[0.05,-0.0041],[0.1,-0.0067],[0.25,-0.0094],[0.25,-0.0145],[0.25,-0.0161],
  [0.25,-0.0509],[1.47,0.0413],[2.07,0.0373],[1.7,0.0353],[2.4,0.0292],[2.63,0.0291],[0.92,0.0262],[0.1,0.0254],[1.24,0.0241],
  [0.6,0.0232],[1.06,0.0228],[1.66,0.0221],[2.86,0.0218],[0.46,0.0221],[0.55,0.0199],[0.78,0.0192],[1.47,0.0192],[1.98,0.0192],
  [0.23,0.019],[1.11,0.0185],[0.69,0.0181],[2.07,0.0174],[2.86,0.0169],[0.41,0.0168],[1.24,0.0163],[1.57,0.015],[2.86,0.0148],
  [0.28,0.0145],[2.07,0.0135],[0.6,0.0129],[0.78,0.0123],[1.47,0.011],[1.66,0.0107],[0.69,0.0101],[0.23,0.0097],[0.92,0.009],
  [1.24,0.0082],[0.32,0.0074],[1.06,0.007],[3.27,0.0066],[3.64,0.0064],[0.83,0.0063],[0.6,0.0051],[5.25,0.0048],[1.47,0.0047],
  [0.41,0.0043],[0.23,0.0039],[1.66,0.0041],[4.84,0.0032],[0.69,0.0032],[4.56,0.002],[1.01,0.0012],[2.72,0.0011],[4.19,0.0005],
  [1.15,-0.0007],[0.46,-0.0023],[2.03,-0.0025],[0.78,-0.0032],[1.01,-0.0041],[0.6,-0.0051],[0.46,-0.006],[1.2,-0.0059],
  [7.05,-0.0039],[4.56,-0.0059],[3.73,-0.007],[0.32,-0.0085],[1.24,-0.0094],[4.56,-0.0131],[5.3,-0.0126],[8.48,-0.0121],
  [16.45,0.004],[11.98,-0.0199],[15.85,-0.021],[17.05,-0.021],[8.99,-0.0246],[11.89,-0.0245],[35.2,-0.0243],[15.85,-0.028],
  [25.85,-0.0288],[17.79,-0.0314],[10.46,-0.0348],[53.96,-0.0357],[51,-0.0099],[19.08,-0.0418],[11.2,-0.0431],[9.17,-0.0504],
  [29.26,-0.05],[14.61,-0.0537],[49.95,-0.0546],[46.5,-0.0601],[43.55,-0.0779]
];
const pctYes = [
  [0.05,0.0252],[0.1,0.0145],[0.05,0.0057],[0.05,0.0016],[0.15,0.0004],[0.05,-0.001],[0.15,-0.0054],[0.2,-0.0081],[0.15,-0.0127],
  [0.25,-0.0178],[0.3,-0.0205],[0.25,-0.0211],[0.25,-0.0227],[0.15,-0.0246],[0.25,-0.0296],[0.3,-0.0296],[0.25,-0.0388],
  [0.25,-0.0397],[4.06,0.0412],[3.92,0.0323],[1.61,0.0292],[0.69,0.0287],[2.67,0.028],[0.6,0.0274],[1.43,0.027],[2.21,0.0246],
  [1.66,0.0225],[5.81,0.018],[1.38,0.0172],[0.55,0.0164],[0.92,0.0154],[1.06,0.0141],[5.99,0.0137],[0.46,0.0119],[1.06,0.0104],
  [1.47,0.0076],[5.53,0.0055],[0.41,0.0021],[0.6,0.0002],[0.78,-0.0011],[3.82,-0.0014],[2.17,-0.0036],[0.78,-0.0076],
  [19.4,-0.0199],[21.1,-0.0228],[17.28,-0.0252],[10.51,-0.032],[16.36,-0.0355],[51,-0.0296],[38.2,-0.0129],[24.19,-0.0103],
  [28.02,-0.0409],[22.81,-0.0427],[20.69,-0.0498],[38.06,-0.0592],[23.92,-0.0599],[39.08,-0.0697]
];

const rateNo = [
  [20,-0.0079],[30,0.0013],[30,-0.0025],[30,-0.0192],[30,-0.0456],[35,0.0084],[35,0.0018],[35,-0.0072],
  [40,-0.0006],[40,-0.0014],[40,-0.0024],[40,-0.0033],[40,-0.0044],[40,-0.0055],[40,-0.0065],[40,-0.0075],[40,-0.0082],
  [40,-0.0092],[40,-0.0099],[40,-0.0107],[40,-0.0114],[40,-0.012],[40,-0.0137],[40,-0.0141],[40,-0.0162],[40,-0.0179],
  [40,-0.0187],[40,-0.0213],[40,-0.0301],[40,-0.0329],[40,-0.0445],
  [45,-0.0054],[45,-0.0072],[45,-0.008],[45,-0.0086],[45,-0.0124],[45,-0.0131],[45,-0.0137],[45,-0.0145],[45,-0.0154],
  [45,-0.0172],[45,-0.0192],[45,-0.0202],[45,-0.021],[45,-0.0225],[45,-0.0242],[45,-0.0259],[45,-0.0272],[45,-0.0284],
  [45,-0.0335],[45,-0.0369],
  [50,0.022],[50,0.0142],[50,0.0121],[50,0.0111],[50,0.0102],[50,0.0091],[50,0.007],[50,0.006],[50,0.0049],[50,0.0036],
  [50,0.0028],[50,0.0019],[50,0.0009],[50,-0.0002],[50,-0.001],[50,-0.0019],[50,-0.003],[50,-0.004],[50,-0.0052],[50,-0.0065],
  [50,-0.0075],[50,-0.0086],[50,-0.0099],[50,-0.0143],
  [55,0.0357],[55,0.0353],[55,0.0317],[55,0.0283],[55,0.0229],[55,0.0215],[55,0.0205],[55,0.018],[55,0.0163],[55,0.0142],
  [55,0.0131],[55,0.0121],[55,0.0108],[55,0.0078],[55,0.0057],[55,0.0049],[55,0.0021],[55,0.0009],[55,0.0003],
  [60,0.0358],[60,0.0311],[60,0.03],[60,0.0281],[60,0.0225],[60,0.0179],[60,0.0172],[60,0.0165],[60,0.0125],[60,0.0075],
  [65,0.0692],[65,0.0376],[65,0.0313],[65,0.0285],[65,0.0225],[65,0.0201],[65,0.0187],[65,0.0176],[65,0.009],[65,0.0073],
  [65,0.0041],[65,0.0007],[70,0.0313]
];
const rateYes = [
  [20,0.0015],[30,-0.0192],[40,0.0009],[40,-0.0128],[40,-0.0207],[40,-0.0235],[40,-0.0272],[40,-0.0289],[40,-0.0352],
  [40,-0.0419],[45,-0.0217],[45,-0.0234],[45,-0.0251],[45,-0.0266],[45,-0.028],[45,-0.0297],[50,0.022],[50,0.0136],
  [50,0.0083],[50,0.0046],[50,0.0013],[50,-0.0061],[50,-0.0103],[55,0.037],[55,0.0295],[55,0.0256],[55,0.0239],[55,0.0184],
  [55,0.0154],[55,0.0097],[55,0.0089],[60,0.0414],[60,0.0211],[60,0.0197],[60,0.0025],[60,-0.0027],[65,0.0315],[65,0.0207]
];

const warmerCats = ['No Warmer', 'Warmer'];
const warmerNo = [
  ['Warmer',0.0268],['Warmer',0.0193],['Warmer',0.0186],['Warmer',0.0178],['Warmer',0.017],['Warmer',0.0161],['Warmer',0.0152],
  ['Warmer',0.0147],['Warmer',0.0141],['Warmer',0.0132],['Warmer',0.0126],['Warmer',0.0121],['Warmer',0.0115],['Warmer',0.0109],
  ['Warmer',0.0103],['Warmer',0.0099],['Warmer',0.009],['Warmer',0.0086],['Warmer',0.0077],['Warmer',0.007],['Warmer',0.0065],
  ['Warmer',0.0059],['Warmer',0.0051],['Warmer',0.0043],['Warmer',0.0024],['Warmer',0.0008],['Warmer',-0.0001],
  ['No Warmer',0.0008],['No Warmer',-0.0024],['No Warmer',-0.0029],['No Warmer',-0.0037],['No Warmer',-0.0043],['No Warmer',-0.0048],
  ['No Warmer',-0.0054],['No Warmer',-0.0061],['No Warmer',-0.0068],['No Warmer',-0.0074],['No Warmer',-0.008],['No Warmer',-0.0087],
  ['No Warmer',-0.0093],['No Warmer',-0.01],['No Warmer',-0.0107],['No Warmer',-0.0114],['No Warmer',-0.0122],['No Warmer',-0.0129],
  ['No Warmer',-0.0136],['No Warmer',-0.0143],['No Warmer',-0.0151],['No Warmer',-0.0156],['No Warmer',-0.0164],['No Warmer',-0.0182],
  ['No Warmer',-0.0211],['No Warmer',-0.0229],['No Warmer',-0.0239],['No Warmer',-0.0266]
];
const warmerYes = [
  ['Warmer',0.0304],['Warmer',0.0285],['Warmer',0.0282],['Warmer',0.0279],['Warmer',0.0276],['Warmer',0.0272],['Warmer',0.0265],
  ['Warmer',0.0234],['Warmer',0.023],['Warmer',0.0225],['Warmer',0.0216],['Warmer',0.0211],['Warmer',0.0207],['Warmer',0.019],
  ['Warmer',0.0182],['Warmer',0.0175],['Warmer',0.0164],['Warmer',0.0158],['Warmer',0.0135],['Warmer',0.0095],['Warmer',0.0083],
  ['Warmer',0.0046],['Warmer',0.0031],['Warmer',-0.0057],['Warmer',-0.0083],
  ['No Warmer',-0.0005],['No Warmer',-0.0015],['No Warmer',-0.002],['No Warmer',-0.0033],['No Warmer',-0.0057],['No Warmer',-0.0097],
  ['No Warmer',-0.0116],['No Warmer',-0.0142],['No Warmer',-0.0149],['No Warmer',-0.0168],['No Warmer',-0.0194],['No Warmer',-0.02],
  ['No Warmer',-0.0205],['No Warmer',-0.022]
];

const enstartNo = [
  [1,0.0379],[1,0.0323],[1,0.0282],[1,0.0273],[1,0.0251],[1,0.0207],[1,0.0198],[1,0.0188],[1,0.0179],[1,0.0168],[1,0.0155],
  [1,0.0146],[1,0.0136],[1,0.0127],[1,0.0113],[1,0.0104],[1,0.0085],[1,0.0075],[1,0.0066],[1,0.0049],[1,0.0042],[1,0.0021],
  [1,-0.0009],[2,0.0085],[2,0.0077],[2,0.0068],[2,0.0061],[2,0.0052],[2,0.0045],[2,0.0036],[2,0.0028],[2,0.0021],[2,0.0014],
  [2,0.0005],[2,-0.0002],[2,-0.0009],[2,-0.0019],[2,-0.0028],[2,-0.0038],[3,0.0055],[3,0.0009],[3,0.0005],[3,-0.0014],
  [3,-0.0024],[3,-0.0045],[3,-0.0055],[3,-0.0064],[3,-0.0075],[3,-0.0085],[3,-0.0118],[3,-0.0153],[3,-0.0204],[4,0.005],
  [4,0.0045],[4,0.0021],[4,-0.0038],[4,-0.0045],[4,-0.0052],[4,-0.0058],[4,-0.0066],[4,-0.0073],[4,-0.0102],[4,-0.0113],
  [5,0.0044],[5,0.0019],[5,-0.0031],[5,-0.0038],[5,-0.0085],[5,-0.0092],[5,-0.0166],[6,0.0014],[6,-0.0046],[6,-0.0141],
  [6,-0.0168],[6,-0.0243],[6,-0.0254],[7,-0.007],[7,-0.0091],[7,-0.0164],[7,-0.0188],[8,-0.0034],[8,-0.0088],[8,-0.0092],
  [8,-0.0185],[8,-0.0214],[8,-0.0224],[8,-0.0259],[8,-0.0466],[9,-0.0257],[9,-0.0367],[9,-0.0562],[10,-0.0066],[10,-0.007],
  [10,-0.0268],[12,0.023],[12,0.012],[12,0.0055],[14,0.0107],[14,-0.02],[16,0.0068],[16,0.0008]
];
const enstartYes = [
  [1,0.0292],[1,0.0287],[1,0.0254],[1,0.024],[1,0.0229],[1,0.0202],[1,0.0174],[1,0.0124],[1,0.0094],[1,0.0061],[1,0.0024],
  [2,0.0163],[2,0.0146],[2,0.0127],[2,0.0118],[2,0.0111],[2,0.0104],[2,0.0094],[2,0.0089],[2,0.0056],[2,0.0042],[2,-0.0081],
  [3,0.006],[3,-0.01],[3,-0.0111],[3,-0.0127],[3,-0.0134],[3,-0.0141],[4,0.0032],[4,-0.0008],[4,-0.0017],[4,-0.0024],
  [4,-0.0033],[4,-0.0125],[5,0.0004],[5,-0.0009],[5,-0.0052],[5,-0.0064],[5,-0.0075],[6,-0.0092],[6,-0.0116],[7,-0.0104],
  [7,-0.0111],[7,-0.0294],[7,-0.0333],[9,-0.0242],[10,-0.0292],[13,-0.009]
];

// ---------- tick labels ----------
const probioticsYTicks = [-0.2, -0.1, 0, 0.1, 0.2];
const abxXTicks = [0, 20, 40, 60];
const abxYTicks = [-0.1, 0, 0.1];
const entypeYTicks = [-0.04, 0, 0.04, 0.08];
const tempXTicks = [18, 20, 22, 24];
const tempYTicks = [-0.05, 0, 0.05];
const naXTicks = [130, 140, 150, 160, 170];
const naYTicks = [-0.05, 0, 0.05, 0.10];
const kXTicks = [3, 4, 5, 6];
const kYTicks = [-0.05, 0, 0.05, 0.10];
const crpXTicks = [0, 100, 200];
const crpYTicks = [-0.06, -0.03, 0, 0.03];
const ageXTicks = [25, 50, 75, 100];
const ageYTicks = [-0.05, 0, 0.05, 0.10];
const pctXTicks = [0, 20, 40];
const pctYTicks = [-0.05, 0, 0.05];
const rateXTicks = [20, 30, 40, 50, 60, 70];
const rateYTicks = [-0.05, -0.025, 0, 0.025, 0.05];
const warmerYTicks = [-0.02, -0.01, 0, 0.01, 0.02, 0.03];
const enstartXTicks = [4, 8, 12, 16];
const enstartYTicks = [-0.06, -0.04, -0.02, 0, 0.02, 0.04];

const legendLabels = ['No Diarrhea', 'Diarrhea'];
const captionText = 'SHAP Dependency Plots: Feature Effects on Model Predictions for Individual Patients';

// ---------- layout ----------
const W = 2282, H = 3958;
const FONT = '"Liberation Sans", Arial, sans-serif';
const BLUE = '#0000ff', RED = '#ff0000';
const sizes = {
  S: { title: 13.5, tick: 9.5, axis: 11, legTitle: 10.5, legLabel: 9.5, r: 4, key: [8, 19, 35.5, 21.5] },
  L: { title: 16, tick: 11, axis: 13, legTitle: 12.5, legLabel: 11, r: 4.3, key: [9.8, 23, 43.8, 25.8] }
};

const panels = [
  { name: 'Probiotics', size: 'S', xLabel: 'Probiotics Usage', cats: probioticsCats, no: probioticsNo, yes: probioticsYes,
    box: { l: 40, r: 822, t: 24, b: 540 }, yDom: [-0.2037, 0.2126], yTicks: probioticsYTicks, yFmt: '.1f',
    yMinor: [-0.15, -0.05, 0.05, 0.15], titleY: 17, xTitleY: 561, yTitleX: 11, legend: [837, 262] },
  { name: 'Abx', size: 'S', xLabel: 'Abx Usage (days)', no: abxNo, yes: abxYes,
    box: { l: 1030, r: 1791, t: 24, b: 526 }, xDom: [-3.14, 65.11], yDom: [-0.1486, 0.1874],
    xTicks: abxXTicks, xMinor: [10, 30, 50], yTicks: abxYTicks, yFmt: '.1f', yMinor: [-0.05, 0.05, 0.15],
    titleY: 17, xTitleY: 546, yTitleX: 1003, legend: [1807, 255] },
  { name: 'ENType', size: 'S', xLabel: 'Enteral Nutrition Type', cats: entypeCats, rotate: true, no: entypeNo, yes: entypeYes,
    box: { l: 43.7, r: 789.5, t: 609.5, b: 1064 }, yDom: [-0.0729, 0.084], yTicks: entypeYTicks, yFmt: '.2f',
    yMinor: [-0.06, -0.02, 0.02, 0.06], titleY: 602, xTitleY: 1125, yTitleX: 11, legend: [806, 819] },
  { name: 'Temp', size: 'S', xLabel: 'Temp (\u00B0C)', no: tempNo, yes: tempYes,
    box: { l: 1057.3, r: 1793.7, t: 609.5, b: 1098.5 }, xDom: [17.64, 25.36], yDom: [-0.0697, 0.0933],
    xTicks: tempXTicks, xMinor: [19, 21, 23, 25], yTicks: tempYTicks, yFmt: '.2f', yMinor: [-0.025, 0.025, 0.075],
    titleY: 602, xTitleY: 1118, yTitleX: 1024.6, legend: [1809, 834] },
  { name: 'Na', size: 'S', xLabel: 'Na (mmol/L)', no: naNo, yes: naYes,
    box: { l: 80, r: 806.3, t: 1281.4, b: 1764 }, xDom: [121.64, 174.42], yDom: [-0.0835, 0.1288],
    xTicks: naXTicks, xMinor: [125, 135, 145, 155, 165], yTicks: naYTicks, yFmt: '.2f',
    yMinor: [-0.075, -0.025, 0.025, 0.075, 0.125], titleY: 1274, xTitleY: 1784, yTitleX: 47.3, legend: [822.3, 1503.4] },
  { name: 'Potassium', size: 'S', xLabel: 'K (mmol/L)', no: kNo, yes: kYes,
    box: { l: 1086.4, r: 1806.8, t: 1281.4, b: 1762.5 }, xDom: [2.08, 6.925], yDom: [-0.0583, 0.1375],
    xTicks: kXTicks, xMinor: [2.5, 3.5, 4.5, 5.5, 6.5], yTicks: kYTicks, yFmt: '.2f',
    yMinor: [-0.025, 0.025, 0.075, 0.125], titleY: 1275, xTitleY: 1781, yTitleX: 1053, legend: [1822, 1503.4] },
  { name: 'CRP', size: 'S', xLabel: 'CRP (mg/L)', no: crpNo, yes: crpYes,
    box: { l: 59.7, r: 824.5, t: 1855, b: 2365 }, xDom: [-10.96, 285.13], yDom: [-0.0678, 0.0538],
    xTicks: crpXTicks, xMinor: [50, 150, 250], yTicks: crpYTicks, yFmt: '.2f', yMinor: [-0.045, -0.015, 0.015, 0.045],
    titleY: 1846, xTitleY: 2384, yTitleX: 25.5, legend: [841.2, 2089] },
  { name: 'Age', size: 'S', xLabel: 'Age (years)', no: ageNo, yes: ageYes,
    box: { l: 1002.8, r: 1799.6, t: 1842.4, b: 2375.7 }, xDom: [10.75, 104.18], yDom: [-0.0651, 0.115],
    xTicks: ageXTicks, xMinor: [12.5, 37.5, 62.5, 87.5], yTicks: ageYTicks, yFmt: '.2f', yMinor: [-0.025, 0.025, 0.075],
    titleY: 1836, xTitleY: 2396, yTitleX: 967.8, legend: [1817.8, 2088.2] },
  { name: 'PCT', size: 'L', xLabel: 'PCT (ng/mL)', no: pctNo, yes: pctYes,
    box: { l: 64, r: 1000.6, t: 2504, b: 3128 }, xDom: [-2.63, 56.69], yDom: [-0.0849, 0.0506],
    xTicks: pctXTicks, xMinor: [10, 30, 50], yTicks: pctYTicks, yFmt: '.2f', yMinor: [-0.075, -0.025, 0.025],
    titleY: 2494, xTitleY: 3151.6, yTitleX: 21.8, legend: [1021, 2790.8] },
  { name: 'Rate', size: 'L', xLabel: 'Rate(ml/h)', no: rateNo, yes: rateYes,
    box: { l: 1239.2, r: 2156.1, t: 2508.8, b: 3123.6 }, xDom: [17.51, 72.52], yDom: [-0.0522, 0.0749],
    xTicks: rateXTicks, xMinor: [25, 35, 45, 55, 65], yTicks: rateYTicks, yFmt: '.3f',
    yMinor: [-0.0375, -0.0125, 0.0125, 0.0375, 0.0625], titleY: 2499, xTitleY: 3146.2, yTitleX: 1191.9, legend: [2175.8, 2791.6] },
  { name: 'Warmer', size: 'L', xLabel: 'Warmer Usage', cats: warmerCats, no: warmerNo, yes: warmerYes,
    box: { l: 60.4, r: 946, t: 3218.2, b: 3808 }, yDom: [-0.0298, 0.0331], yTicks: warmerYTicks, yFmt: '.2f',
    yMinor: [-0.025, -0.015, -0.005, 0.005, 0.015, 0.025], titleY: 3209, xTitleY: 3830.4, yTitleX: 20.4, legend: [966.4, 3488.6] },
  { name: 'ENStart', size: 'L', xLabel: 'ENStart (days)', no: enstartNo, yes: enstartYes,
    box: { l: 1232, r: 2128.5, t: 3249.5, b: 3848.3 }, xDom: [0.28, 16.71], yDom: [-0.0617, 0.0426],
    xTicks: enstartXTicks, xMinor: [2, 6, 10, 14], yTicks: enstartYTicks, yFmt: '.2f', yMinor: [-0.05, -0.03, -0.01, 0.01, 0.03],
    titleY: 3241, xTitleY: 3870, yTitleX: 1192, legend: [2148.9, 3524.3] }
];

// figure captions and panel letters
const captions = [
  { x: 230, y: 1194, size: 43, len: 1434 },
  { x: 236, y: 2457, size: 42, len: 1439 },
  { x: 286, y: 3935, size: 53, len: 1732 }
];
const letters = [
  { t: 'A', x: 2, y: 25, size: 26 },
  { t: 'B', x: 14, y: 1281, size: 29 },
  { t: 'C', x: 3, y: 2498, size: 31 }
];

// ---------- drawing ----------
const svg = d3.select('body').append('svg')
  .attr('width', W).attr('height', H)
  .style('display', 'block').style('background', '#fff');

const minus = f => v => f(v).replace('\u2212', '-');

function drawPanel(p) {
  const s = sizes[p.size];
  const { l, r, t, b } = p.box;
  const g = svg.append('g').attr('class', 'panel');

  const x = p.cats
    ? d3.scalePoint().domain(p.cats).range([l, r]).padding(0.6)
    : d3.scaleLinear().domain(p.xDom).range([l, r]);
  const y = d3.scaleLinear().domain(p.yDom).range([b, t]);

  // grid: minor then major
  const grid = g.append('g');
  grid.selectAll('line.ymin').data(p.yMinor).join('line').attr('class', 'ymin')
    .attr('x1', l).attr('x2', r).attr('y1', d => y(d)).attr('y2', d => y(d))
    .attr('stroke', '#f2f2f2').attr('stroke-width', 1);
  if (p.xMinor) {
    grid.selectAll('line.xmin').data(p.xMinor).join('line').attr('class', 'xmin')
      .attr('x1', d => x(d)).attr('x2', d => x(d)).attr('y1', t).attr('y2', b)
      .attr('stroke', '#f2f2f2').attr('stroke-width', 1);
  }
  grid.selectAll('line.ymaj').data(p.yTicks).join('line').attr('class', 'ymaj')
    .attr('x1', l).attr('x2', r).attr('y1', d => y(d)).attr('y2', d => y(d))
    .attr('stroke', '#ebebeb').attr('stroke-width', 1.7);
  grid.selectAll('line.xmaj').data(p.cats || p.xTicks).join('line').attr('class', 'xmaj')
    .attr('x1', d => x(d)).attr('x2', d => x(d)).attr('y1', t).attr('y2', b)
    .attr('stroke', '#ebebeb').attr('stroke-width', 1.7);

  // points
  const pts = p.no.map(d => ({ d, c: BLUE })).concat(p.yes.map(d => ({ d, c: RED })));
  g.append('g').selectAll('circle').data(pts).join('circle')
    .attr('cx', o => x(o.d[0])).attr('cy', o => y(o.d[1])).attr('r', s.r)
    .attr('fill', o => o.c).attr('fill-opacity', 0.62);

  // reference line at zero
  g.append('line')
    .attr('x1', l).attr('x2', r).attr('y1', y(0)).attr('y2', y(0))
    .attr('stroke', RED).attr('stroke-opacity', 0.85)
    .attr('stroke-width', 2).attr('stroke-dasharray', '2.6,2.6');

  // axes
  const xAxis = d3.axisBottom(x).tickSize(0).tickPadding(4);
  if (!p.cats) xAxis.tickValues(p.xTicks).tickFormat(d3.format('d'));
  const xg = g.append('g').attr('transform', `translate(0,${b})`).call(xAxis);
  xg.select('.domain').remove();
  xg.selectAll('text').attr('font-size', s.tick).attr('font-family', FONT).attr('fill', '#4d4d4d');
  if (p.rotate) {
    xg.selectAll('text')
      .attr('x', 0).attr('y', 0).attr('dy', '0.35em')
      .attr('text-anchor', 'end')
      .attr('transform', 'translate(6,8) rotate(-45)');
  }

  const yg = g.append('g').attr('transform', `translate(${l},0)`)
    .call(d3.axisLeft(y).tickValues(p.yTicks).tickSize(0).tickPadding(5).tickFormat(minus(d3.format(p.yFmt))));
  yg.select('.domain').remove();
  yg.selectAll('text').attr('font-size', s.tick).attr('font-family', FONT).attr('fill', '#4d4d4d');

  // titles
  g.append('text').attr('x', l).attr('y', p.titleY)
    .attr('font-family', FONT).attr('font-size', s.title).attr('fill', '#000')
    .text('SHAP Dependence Plot for ' + p.name);
  g.append('text').attr('x', (l + r) / 2).attr('y', p.xTitleY)
    .attr('text-anchor', 'middle').attr('dominant-baseline', 'middle')
    .attr('font-family', FONT).attr('font-size', s.axis).attr('fill', '#000')
    .text(p.xLabel);
  g.append('text')
    .attr('transform', `translate(${p.yTitleX},${(t + b) / 2}) rotate(-90)`)
    .attr('text-anchor', 'middle').attr('dominant-baseline', 'middle')
    .attr('font-family', '"DejaVu Sans", Arial, sans-serif').attr('font-size', s.axis * 0.92).attr('fill', '#000')
    .text('SHAP Value');

  // legend
  const [lx, ly] = p.legend;
  const [kdx, k1, k2, ldx] = s.key;
  const lg = g.append('g');
  lg.append('text').attr('x', lx).attr('y', ly).attr('dominant-baseline', 'middle')
    .attr('font-family', FONT).attr('font-size', s.legTitle).text('Diarrhea Status');
  lg.selectAll('circle').data([BLUE, RED]).join('circle')
    .attr('cx', lx + kdx).attr('cy', (c, i) => ly + (i ? k2 : k1)).attr('r', s.r)
    .attr('fill', c => c).attr('fill-opacity', 0.62);
  lg.selectAll('text.lab').data(legendLabels).join('text').attr('class', 'lab')
    .attr('x', lx + ldx).attr('y', (c, i) => ly + (i ? k2 : k1)).attr('dominant-baseline', 'middle')
    .attr('font-family', FONT).attr('font-size', s.legLabel).text(d => d);
}

panels.forEach(drawPanel);

svg.selectAll('text.caption').data(captions).join('text').attr('class', 'caption')
  .attr('x', d => d.x).attr('y', d => d.y)
  .attr('font-family', '"Liberation Serif", "Times New Roman", serif')
  .attr('font-size', d => d.size)
  .attr('textLength', d => d.len).attr('lengthAdjust', 'spacingAndGlyphs')
  .text(captionText);

svg.selectAll('text.letter').data(letters).join('text').attr('class', 'letter')
  .attr('x', d => d.x).attr('y', d => d.y)
  .attr('font-family', FONT).attr('font-weight', 'bold').attr('font-size', d => d.size)
  .text(d => d.t);
</script>
</body>
</html>
